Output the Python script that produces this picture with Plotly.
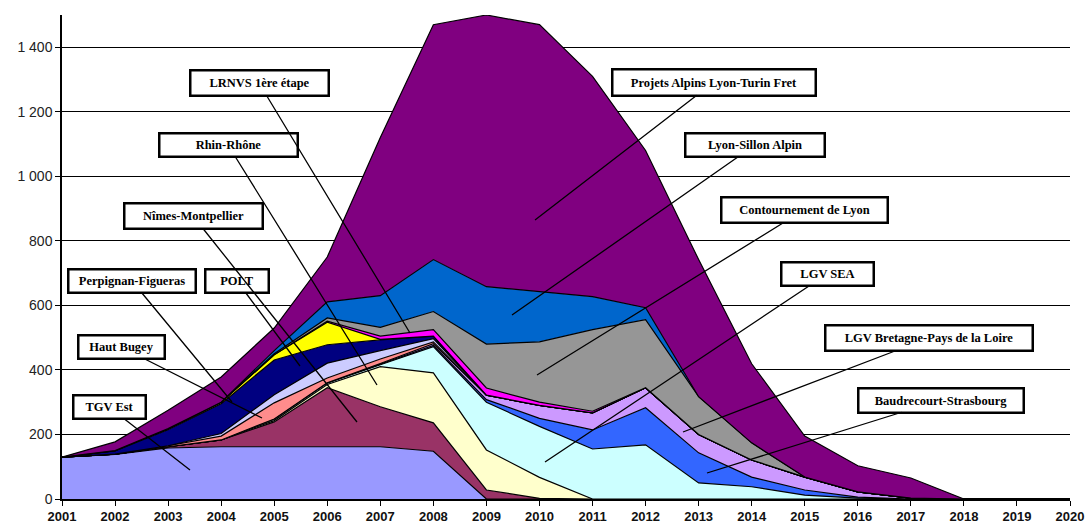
import plotly.graph_objects as go

years = list(range(2001, 2021))

# thickness of each stacked layer (bottom to top), Mds €
tgv_est      = [130,138,158,162,162,162,162,148,0,0,0,0,0,0,0,0,0,0,0,0]
nimes_mtp    = [0,1,4,21,77,183,124,88,28,2,0,0,0,0,0,0,0,0,0,0]
rhin_rhone   = [0,0,0,0,4,10,124,155,124,65,0,0,0,0,0,0,0,0,0,0]
lgv_sea      = [0,0,0,0,5,5,6,81,148,158,155,168,50,38,12,3,0,0,0,0]
baudrecourt  = [0,0,0,0,0,0,2,4,8,25,59,115,93,30,16,3,0,0,0,0]
bretagne     = [0,0,0,0,0,0,2,5,14,40,53,62,57,53,40,16,3,0,0,0]
haut_bugey   = [0,0,3,12,50,15,14,6,0,0,0,0,0,0,0,0,0,0,0,0]
autre        = [0,0,0,8,25,46,26,10,0,0,0,0,0,0,0,0,0,0,0,0]
perpignan    = [0,10,50,92,108,57,33,8,0,0,0,0,0,0,0,0,0,0,0,0]
polt         = [0,1,3,5,16,70,2,0,0,0,0,0,0,0,0,0,0,0,0,0]
lrnvs        = [0,0,0,0,0,3,10,20,22,10,5,0,0,0,0,0,0,0,0,0]
contournement= [0,0,0,0,3,10,27,56,136,187,253,211,117,53,0,0,0,0,0,0]
sillon_alpin = [0,0,0,0,10,50,98,161,178,156,102,37,0,0,0,0,0,0,0,0]
lyon_turin   = [0,27,57,78,70,139,490,728,842,827,683,487,425,245,127,81,62,0,0,0]

series = [
    ("TGV Est", tgv_est, "#9999FF"),
    ("Nîmes-Montpellier", nimes_mtp, "#993366"),
    ("Rhin-Rhône", rhin_rhone, "#FFFFCC"),
    ("LGV SEA", lgv_sea, "#CCFFFF"),
    ("Baudrecourt-Strasbourg", baudrecourt, "#3366FF"),
    ("LGV Bretagne-Pays de la Loire", bretagne, "#CC99FF"),
    ("Haut Bugey", haut_bugey, "#FF8C8C"),
    ("Autre", autre, "#CCCCFF"),
    ("Perpignan-Figueras", perpignan, "#000080"),
    ("POLT", polt, "#FFFF00"),
    ("LRNVS 1ère étape", lrnvs, "#FF00FF"),
    ("Contournement de Lyon", contournement, "#969696"),
    ("Lyon-Sillon Alpin", sillon_alpin, "#0066CC"),
    ("Projets Alpins Lyon-Turin Fret", lyon_turin, "#800080"),
]

y_tickvals = [0, 200, 400, 600, 800, 1000, 1200, 1400]
y_ticktext = ["0", "200", "400", "600", "800", "1 000", "1 200", "1 400"]

fig = go.Figure()
for name, vals, col in series:
    fig.add_trace(go.Scatter(
        x=years, y=vals, name=name, stackgroup="one", mode="lines",
        line=dict(color="black", width=1.2), fillcolor=col,
        hoverinfo="skip"))

# layout geometry (pixels -> data) for label boxes
X0, X1, Y0, Y1 = 62, 1070, 499, 15
def px(x):
    return 2001 + (x - X0) * 19 / (X1 - X0)
def py(y):
    return (Y0 - y) * 1500 / (Y0 - Y1)

# label, box centre (px), box w/h, target point (px)
labels = [
    ("TGV Est", (109, 407), 74, 25, (190, 470)),
    ("Haut Bugey", (121, 347), 88, 25, (262, 418)),
    ("Perpignan-Figueras", (132, 281), 129, 25, (232, 402)),
    ("POLT", (237, 281), 65, 25, (300, 366)),
    ("Nîmes-Montpellier", (193, 216), 140, 27, (357, 422)),
    ("Rhin-Rhône", (228, 145), 140, 25, (377, 385)),
    ("LRNVS 1ère étape", (259, 83), 140, 27, (410, 333)),
    ("Projets Alpins Lyon-Turin Fret", (714, 82), 205, 28, (535, 220)),
    ("Lyon-Sillon Alpin", (755, 145), 141, 25, (512, 315)),
    ("Contournement de Lyon", (804, 210), 168, 27, (537, 375)),
    ("LGV SEA", (827, 274), 94, 25, (545, 462)),
    ("LGV Bretagne-Pays de la Loire", (929, 338), 209, 27, (683, 432)),
    ("Baudrecourt-Strasbourg", (941, 400), 167, 26, (707, 473)),
]

annotations = []
for text, (bx, by), w, h, (tx, ty) in labels:
    annotations.append(dict(
        x=px(tx), y=py(ty), xref="x", yref="y",
        ax=px(bx), ay=py(by), axref="x", ayref="y",
        text="<b>" + text + "</b>", showarrow=True, arrowhead=0, arrowwidth=1.3,
        arrowcolor="black", width=w - 6, height=h - 6,
        bgcolor="white", bordercolor="black", borderwidth=2.5, borderpad=1,
        font=dict(family="Liberation Serif, Times New Roman, serif", size=12.5, color="black")))

fig.update_layout(
    width=1088, height=527,
    margin=dict(l=62, r=18, t=15, b=28, autoexpand=False),
    paper_bgcolor="white", plot_bgcolor="white",
    showlegend=False,
    annotations=annotations,
    xaxis=dict(range=[2001, 2020], tickmode="array", tickvals=years,
               ticktext=[str(y) for y in years], automargin=False,
               showgrid=False, showline=True, linecolor="black", linewidth=1.5,
               ticks="outside", ticklen=5, tickcolor="black", zeroline=False,
               tickfont=dict(family="Liberation Sans", size=13, color="#111", weight="bold")),
    yaxis=dict(range=[0, 1500], tickmode="array", tickvals=y_tickvals,
               ticktext=y_ticktext, automargin=False,
               showgrid=True, gridcolor="black", gridwidth=1,
               showline=True, linecolor="black", linewidth=1.5,
               ticks="outside", ticklen=5, tickcolor="black", zeroline=False,
               tickfont=dict(family="Liberation Sans", size=14, color="#222")),
)

fig.write_html("out.html", config={"displayModeBar": False},
               post_script="document.body.style.margin='0px';document.body.style.overflow='hidden';")
